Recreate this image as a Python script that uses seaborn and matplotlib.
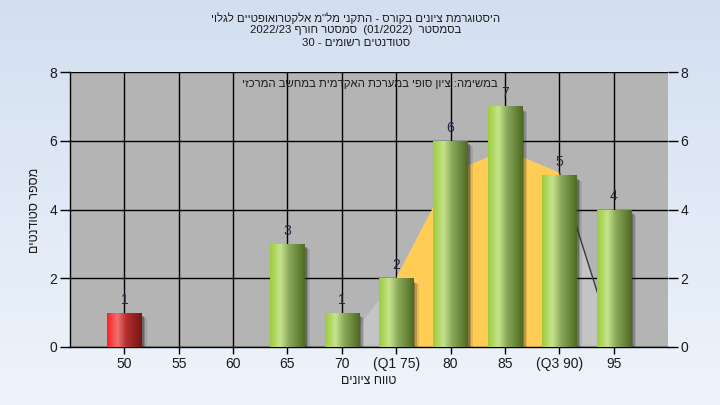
import numpy as np
import matplotlib
matplotlib.use("Agg")
import matplotlib.pyplot as plt
import seaborn as sns
import pandas as pd
from matplotlib.colors import LinearSegmentedColormap
from matplotlib.patches import Rectangle

# ---------------- data ----------------
categories = ["50", "55", "60", "65", "70", "(Q1 75)", "80", "85", "(Q3 90)", "95"]
counts = [1, 0, 0, 3, 1, 2, 6, 7, 5, 4]
fail_categories = ["50"]

curve_categories = ["70", "(Q1 75)", "80", "85", "(Q3 90)", "95"]
curve_values = [0.0, 2.05, 5.08, 5.75, 5.08, 0.1]
q1_label, q3_label = "(Q1 75)", "(Q3 90)"

title_lines = [
    'היסטוגרמת ציונים בקורס - התקני מל"מ אלקטרואופטיים לגלוי',
    "בסמסטר  (01/2022)  סמסטר חורף 2022/23",
    "סטודנטים רשומים - 30",
]
note_text = "במשימה: ציון סופי במערכת האקדמית במחשב המרכזי"
x_label = "טווח ציונים"
y_label = "מספר סטודנטים"
y_ticks = [0, 2, 4, 6, 8]


def visual(s):
    """Simple RTL -> visual (left-to-right drawing) order."""
    def is_heb(t):
        return any("\u0590" <= c <= "\u05ff" for c in t)
    toks = s.split(" ")
    out = [t[::-1] if is_heb(t) else t for t in toks[::-1]]
    return " ".join(out)


sns.set_theme(style="white")
plt.rcParams["font.family"] = ["Liberation Sans", "DejaVu Sans"]

fig = plt.figure(figsize=(7.2, 4.05), dpi=100)

# figure background gradient
bg = fig.add_axes([0, 0, 1, 1], zorder=-10)
bg.axis("off")
bgcmap = LinearSegmentedColormap.from_list("bg", ["#d3dff0", "#eef4fc"])
bg.imshow(np.linspace(0, 1, 256)[:, None], aspect="auto", cmap=bgcmap,
          extent=[0, 1, 0, 1], origin="upper")

ax = fig.add_axes([70 / 720, 58 / 405, 598 / 720, 275 / 405])
ax.set_facecolor("#b4b4b4")

df = pd.DataFrame({"range": categories, "count": counts})
palette = {c: ("#e02020" if c in fail_categories else "#8fbf3a") for c in categories}
sns.barplot(data=df, x="range", y="count", hue="range", palette=palette,
            width=0.63, saturation=1, legend=False, ax=ax, zorder=3, linewidth=0)

# background distribution polygon
cx = np.array([categories.index(c) for c in curve_categories], dtype=float)
cy = np.array(curve_values)
iq1, iq3 = categories.index(q1_label), categories.index(q3_label)
ax.fill_between(cx, 0, cy, color="#c4c4c4", lw=0, zorder=0.3)
mask = (cx >= iq1) & (cx <= iq3)
ax.fill_between(cx[mask], 0, cy[mask], color="#ffcc55", lw=0, zorder=1)
m2 = cx >= iq3
ax.plot(cx[m2], cy[m2], color="#3a3a3a", lw=1, zorder=1.1)

# gradient bars with shadows
green = LinearSegmentedColormap.from_list(
    "g", [(0, "#9ccc3c"), (0.3, "#c6e38c"), (0.55, "#8aa85a"), (1, "#4e6a22")])
red = LinearSegmentedColormap.from_list(
    "r", [(0, "#ff1e1e"), (0.3, "#f07070"), (0.55, "#b43030"), (1, "#7a1414")])
grad = np.linspace(0, 1, 128)[None, :]
for cat, patch in zip(categories, ax.patches):
    x, w, h = patch.get_x(), patch.get_width(), patch.get_height()
    if h <= 0:
        patch.set_visible(False)
        continue
    for k, a in enumerate([0.35, 0.22, 0.12]):
        ax.add_patch(Rectangle((x + 0.04 + 0.03 * k, -0.05), w, h - 0.05 - 0.03 * k,
                               color="#2a2a2a", alpha=a, lw=0, zorder=2.5))
    cmap = red if cat in fail_categories else green
    im = ax.imshow(grad, cmap=cmap, aspect="auto", extent=[x, x + w, 0, h],
                   zorder=3.5, interpolation="bilinear")
    im.set_clip_path(patch)
    ax.text(x + w / 2, h + 0.38, str(int(h)), ha="center", va="center",
            fontsize=10, color="#1f2a44", zorder=5)

ax.set_xlim(-1, len(categories))
ax.set_ylim(0, 8)
ax.set_yticks(y_ticks)
ax.set_xticks(range(len(categories)))
ax.set_xticklabels(categories)

# grid
ax.set_axisbelow(True)
ax.grid(True, color="black", lw=1)

for s in ["top", "right"]:
    ax.spines[s].set_visible(False)
for s in ["left", "bottom"]:
    ax.spines[s].set_color("black")
    ax.spines[s].set_linewidth(1)

ax.tick_params(axis="y", left=True, right=True, labelright=True, direction="out",
               length=7, width=1, color="black", pad=2, labelsize=10, labelcolor="#1a1a1a")
ax.tick_params(axis="x", bottom=True, direction="out", length=5, width=1,
               color="black", pad=2, labelsize=10, labelcolor="#1a1a1a")
ax.set_xlabel("")
ax.set_ylabel("")

ax.text(0.502, 0.956, visual(note_text), transform=ax.transAxes, ha="center",
        va="center", fontsize=8.2, color="#1a1a1a", zorder=6)

fig.text(369 / 720, 1 - 381 / 405, visual(x_label), ha="center", va="center",
         fontsize=9, color="#1a1a1a")
fig.text(35 / 720, 1 - 210 / 405, visual(y_label), ha="center", va="center",
         rotation=90, fontsize=9, color="#1a1a1a")

for i, (line, yy) in enumerate(zip(title_lines, [18, 30, 43])):
    fig.text(356 / 720, 1 - yy / 405, visual(line), ha="center", va="center",
             fontsize=8.2, color="#1a1a1a")

fig.savefig("out.png", dpi=100)
